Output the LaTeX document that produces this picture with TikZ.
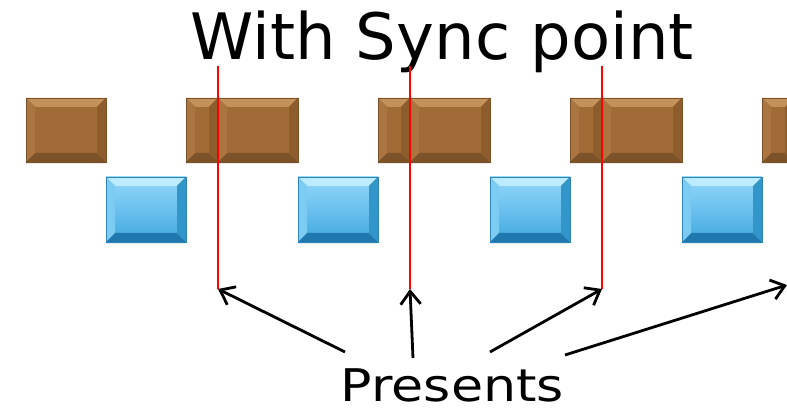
\documentclass[tikz,border=0pt]{standalone}
\usepackage{fontspec}
\setmainfont{DejaVu Sans}
\usetikzlibrary{arrows.meta,shadows}
\definecolor{brownmid}{HTML}{A06B37}
\definecolor{browntop}{HTML}{C4915A}
\definecolor{brownleft}{HTML}{AA7540}
\definecolor{brownright}{HTML}{8E5D2D}
\definecolor{brownbot}{HTML}{7C5229}
\definecolor{brownline}{HTML}{7A5129}
\definecolor{bluetopc}{HTML}{94D8FC}
\definecolor{bluebotc}{HTML}{40A8DE}
\definecolor{bluetopf}{HTML}{BDEBFF}
\definecolor{blueleftf}{HTML}{7CCBF2}
\definecolor{bluerightf}{HTML}{3396CA}
\definecolor{bluebotf}{HTML}{2079AE}
\definecolor{blueline}{HTML}{2E86B8}
\definecolor{syncred}{HTML}{FF0000}
\newcommand\bevelfacets[4]{%
  \coordinate (@nw) at (path picture bounding box.north west);
  \coordinate (@ne) at (path picture bounding box.north east);
  \coordinate (@sw) at (path picture bounding box.south west);
  \coordinate (@se) at (path picture bounding box.south east);
  \fill[#1] (@nw) -- (@ne) -- ([shift={(-9pt,-9pt)}]@ne) -- ([shift={(9pt,-9pt)}]@nw) -- cycle;
  \fill[#2] (@sw) -- (@se) -- ([shift={(-9pt,9pt)}]@se) -- ([shift={(9pt,9pt)}]@sw) -- cycle;
  \fill[#3] (@nw) -- (@sw) -- ([shift={(9pt,9pt)}]@sw) -- ([shift={(9pt,-9pt)}]@nw) -- cycle;
  \fill[#4] (@ne) -- (@se) -- ([shift={(-9pt,9pt)}]@se) -- ([shift={(-9pt,-9pt)}]@ne) -- cycle;
}
\tikzset{
  boxbase/.style={rectangle, inner sep=0pt, line width=0.5pt,
    drop shadow={shadow xshift=0pt, shadow yshift=-2.5pt, opacity=0.18}},
  brownbox/.style={boxbase, minimum height=64pt, fill=brownmid, draw=brownline,
    path picture={\bevelfacets{browntop}{brownbot}{brownleft}{brownright}}},
  bluebox/.style={boxbase, minimum height=65pt, minimum width=80pt,
    top color=bluetopc, bottom color=bluebotc, draw=blueline,
    path picture={\bevelfacets{bluetopf}{bluebotf}{blueleftf}{bluerightf}}},
  syncline/.style={draw=syncred, line width=2.6pt},
  presarrow/.style={draw=black, line width=2.8pt,
    -{Straight Barb[length=13pt,width=20pt,line width=2.8pt]}},
}
\begin{document}
\begin{tikzpicture}[x=1pt,y=1pt]
\useasboundingbox (0,0) rectangle (787,419);
% title
\node[anchor=base, inner sep=0pt, font=\fontsize{64}{70}\selectfont] (title) at (442,359) {With Sync point};
% blue row
\node[bluebox] (bl1) at (146,209.5) {};
\node[bluebox] (bl2) at (338,209.5) {};
\node[bluebox] (bl3) at (530,209.5) {};
\node[bluebox] (bl4) at (722,209.5) {};
% brown row
\node[brownbox, minimum width=80pt] (bb1) at (66,289) {};
\node[brownbox, minimum width=32pt] (sb1) at (202,289) {};
\node[brownbox, minimum width=80pt] (bb2) at (258,289) {};
\node[brownbox, minimum width=32pt] (sb2) at (394,289) {};
\node[brownbox, minimum width=80pt] (bb3) at (450,289) {};
\node[brownbox, minimum width=32pt] (sb3) at (586,289) {};
\node[brownbox, minimum width=80pt] (bb4) at (642,289) {};
\node[brownbox, minimum width=32pt] (sb4) at (778,289) {};
% sync lines
\coordinate (s1t) at (218,353); \coordinate (s1b) at (218,130);
\coordinate (s2t) at (410,353); \coordinate (s2b) at (410,130);
\coordinate (s3t) at (602,353); \coordinate (s3b) at (602,130);
\coordinate (s4b) at (787,134);
\draw[syncline] (s1t) -- (s1b);
\draw[syncline] (s2t) -- (s2b);
\draw[syncline] (s3t) -- (s3b);
% presents
\node[anchor=base, inner sep=0pt, font=\fontsize{45}{50}\selectfont] (presents) at (452.5,17) {\scalebox{1.16}[1]{Presents}};
\coordinate (p1) at (345,67);
\coordinate (p2) at (413,61);
\coordinate (p3) at (490,67);
\coordinate (p4) at (565,64);
\draw[presarrow] (p1) -- (s1b);
\draw[presarrow] (p2) -- (s2b);
\draw[presarrow] (p3) -- (s3b);
\draw[presarrow] (p4) -- (s4b);
\end{tikzpicture}
\end{document}
